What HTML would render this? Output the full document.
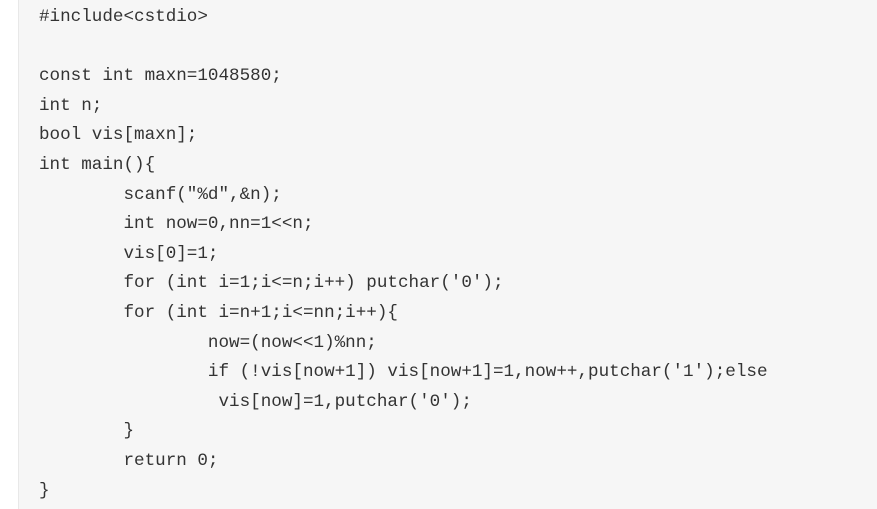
<!DOCTYPE html>
<html><head><style>
html,body{margin:0;padding:0;background:#fff;width:877px;height:509px;overflow:hidden}
.box{position:absolute;left:18px;top:0;width:880px;height:509px;background:#f6f6f6;border-left:1px solid #e8e8e8}
pre{margin:0;position:absolute;left:39px;top:3px;font-family:"Liberation Mono",monospace;font-size:17.6px;line-height:29.6px;color:#333;tab-size:8}
</style></head><body>
<div class="box"></div>
<pre>#include&lt;cstdio&gt;

const int maxn=1048580;
int n;
bool vis[maxn];
int main(){
        scanf("%d",&amp;n);
        int now=0,nn=1&lt;&lt;n;
        vis[0]=1;
        for (int i=1;i&lt;=n;i++) putchar('0');
        for (int i=n+1;i&lt;=nn;i++){
                now=(now&lt;&lt;1)%nn;
                if (!vis[now+1]) vis[now+1]=1,now++,putchar('1');else
                 vis[now]=1,putchar('0');
        }
        return 0;
}</pre>
</body></html>
